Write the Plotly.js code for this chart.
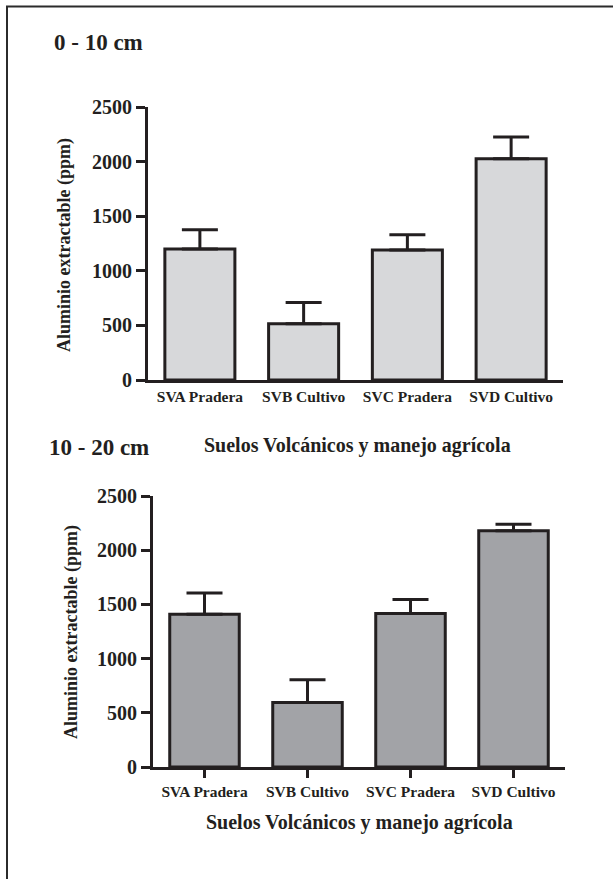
<!DOCTYPE html>
<html>
<head>
<meta charset="utf-8">
<script src="https://cdn.plot.ly/plotly-3.0.1.min.js"></script>
<style>html,body{margin:0;padding:0;background:#fff;}#chart{width:613px;height:879px;}</style>
</head>
<body>
<div id="chart"></div>
<script>
var categories = ['SVA Pradera', 'SVB Cultivo', 'SVC Pradera', 'SVD Cultivo'];
var mean0to10 = [1200, 515, 1190, 2025];
var err0to10 = [175, 195, 140, 200];
var mean10to20 = [1410, 595, 1415, 2180];
var err10to20 = [195, 210, 130, 60];
var yTicks = [0, 500, 1000, 1500, 2000, 2500];
var panelTitles = ['0 - 10 cm', '10 - 20 cm'];
var yTitle = 'Aluminio extractable (ppm)';
var xTitle = 'Suelos Volcánicos y manejo agrícola';

var ink = '#231f20';
var W = 613, H = 879;
function px(x){ return x / W; }
function py(y){ return 1 - y / H; }
var serif = 'Liberation Serif, Times New Roman, serif';

function barTrace(vals, errs, fill, xa, ya){
  return {
    type: 'bar', x: categories, y: vals, xaxis: xa, yaxis: ya,
    width: 0.675,
    marker: {color: fill, line: {color: ink, width: 3}},
    error_y: {type: 'data', array: errs, arrayminus: errs.map(function(){return 0;}), symmetric: false,
              color: ink, thickness: 3, width: 18},
    hoverinfo: 'x+y', showlegend: false
  };
}

var data = [
  barTrace(mean0to10, err0to10, '#d7d8da', 'x', 'y'),
  barTrace(mean10to20, err10to20, '#a2a3a7', 'x2', 'y2')
];

function yax(dom, anchor){
  return {domain: dom, anchor: anchor, range: [0, 2500], tickvals: yTicks, ticktext: yTicks.map(String),
    showline: true, linewidth: 3, linecolor: ink, ticks: 'outside', ticklen: 9, tickwidth: 3, tickcolor: ink,
    showgrid: false, zeroline: false, tickfont: {family: serif, size: 20, color: ink, weight: 'bold'}, fixedrange: true};
}
function xax(dom, anchor, tk){
  return {domain: dom, anchor: anchor, range: [-0.5, 3.5], type: 'category',
    showline: true, linewidth: 3, linecolor: ink, ticks: tk ? 'outside' : '', ticklen: 8, tickwidth: 3, tickcolor: ink,
    showgrid: false, zeroline: false, tickfont: {family: serif, size: 15.5, color: ink, weight: 'bold'}, fixedrange: true};
}

var layout = {
  width: W, height: H,
  margin: {l: 0, r: 0, t: 0, b: 0},
  paper_bgcolor: '#fff', plot_bgcolor: 'rgba(0,0,0,0)',
  bargap: 0.325,
  xaxis: xax([px(148), px(563)], 'y', false),
  yaxis: yax([py(380), py(107)], 'x'),
  xaxis2: xax([px(153), px(565)], 'y2', true),
  yaxis2: yax([py(767), py(496)], 'x2'),
  shapes: [
    {type: 'rect', xref: 'paper', yref: 'paper', x0: px(7), x1: 1.05, y0: -0.05, y1: py(6.5),
     line: {color: '#2b2b2b', width: 2}, fillcolor: 'rgba(0,0,0,0)'}
  ],
  annotations: [
    {text: panelTitles[0], xref: 'paper', yref: 'paper', x: px(52), y: py(43), xanchor: 'left', yanchor: 'middle', showarrow: false,
     font: {family: serif, size: 23, color: ink, weight: 'bold'}},
    {text: panelTitles[1], xref: 'paper', yref: 'paper', x: px(47), y: py(448), xanchor: 'left', yanchor: 'middle', showarrow: false,
     font: {family: serif, size: 23, color: ink, weight: 'bold'}},
    {text: yTitle, xref: 'paper', yref: 'paper', x: px(64), y: py(245), xanchor: 'center', yanchor: 'middle', textangle: -90, showarrow: false,
     font: {family: serif, size: 18, color: ink, weight: 'bold'}},
    {text: yTitle, xref: 'paper', yref: 'paper', x: px(71), y: py(632), xanchor: 'center', yanchor: 'middle', textangle: -90, showarrow: false,
     font: {family: serif, size: 18, color: ink, weight: 'bold'}},
    {text: xTitle, xref: 'paper', yref: 'paper', x: px(357), y: py(446), xanchor: 'center', yanchor: 'middle', showarrow: false,
     font: {family: serif, size: 20, color: ink, weight: 'bold'}},
    {text: xTitle, xref: 'paper', yref: 'paper', x: px(359), y: py(822), xanchor: 'center', yanchor: 'middle', showarrow: false,
     font: {family: serif, size: 20, color: ink, weight: 'bold'}}
  ]
};

Plotly.newPlot('chart', data, layout, {displayModeBar: false, staticPlot: true});
</script>
</body>
</html>
